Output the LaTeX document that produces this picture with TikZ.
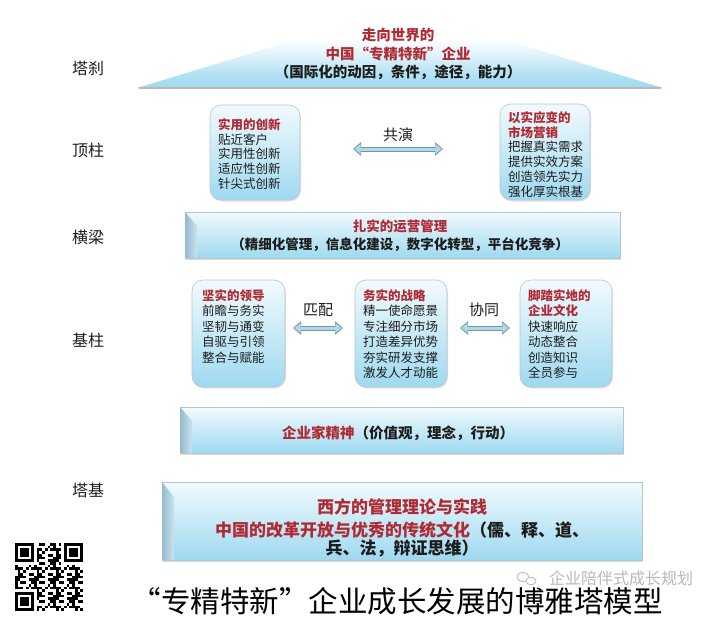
\documentclass[tikz,border=0pt]{standalone}
\usepackage{fontspec}
\setmainfont{Noto Sans CJK SC}
\usetikzlibrary{arrows.meta,shadows}
\definecolor{dred}{RGB}{176,42,52}
\definecolor{txt}{RGB}{28,28,28}
\definecolor{bluetop}{RGB}{242,250,253}
\definecolor{bluebot}{RGB}{158,217,240}
\definecolor{edgec}{RGB}{182,198,206}
\definecolor{arrfill}{RGB}{178,216,230}
\definecolor{arredge}{RGB}{110,152,170}
\definecolor{bevelA}{RGB}{150,186,204}
\definecolor{bevelB}{RGB}{200,228,240}
\definecolor{wmgray}{RGB}{185,185,185}
\pgfdeclareverticalshading{roofsh}{100bp}{color(0bp)=(bluebot); color(25bp)=(bluebot); color(33bp)=(bluebot!80!white); color(45bp)=(bluebot!35!white); color(56bp)=(white); color(100bp)=(white)}
\begin{document}
\begin{tikzpicture}[x=1pt,y=-1pt,
  colbox/.style={rounded corners=11pt, top color=bluetop, bottom color=bluebot, draw=edgec, line width=0.6pt,
     drop shadow={opacity=0.22, shadow xshift=1pt, shadow yshift=-1.5pt}, inner sep=0pt},
  barbox/.style={top color=bluetop, bottom color=bluebot, draw=edgec, line width=0.6pt,
     drop shadow={opacity=0.28, shadow xshift=1pt, shadow yshift=-2pt}, inner sep=0pt},
  bevelshade/.style={left color=bevelA, right color=bevelB},
  boxtext/.style={anchor=north west, inner sep=0pt, align=left, text=txt, font=\fontsize{12.5}{15.5}\selectfont},
  lbl/.style={inner sep=0pt, text=txt, font=\fontsize{16}{16}\selectfont},
  arrlbl/.style={inner sep=0pt, text=txt, font=\fontsize{15}{15}\selectfont},
  arrout/.style={line width=5pt, draw=arredge, {Triangle[length=8pt,width=13pt]}-{Triangle[length=8pt,width=13pt]}},
  arrin/.style={line width=3pt, draw=arrfill, shorten <=1.3pt, shorten >=1.3pt, {Triangle[length=6.3pt,width=9.5pt]}-{Triangle[length=6.3pt,width=9.5pt]}}
]
\useasboundingbox (0,0) rectangle (728,618);
\fill[white] (0,0) rectangle (728,618);

% ---------- left labels
\node[lbl] (L1) at (88,68) {塔刹};
\node[lbl] (L2) at (88,150) {顶柱};
\node[lbl] (L3) at (88,237) {横梁};
\node[lbl] (L4) at (88,340) {基柱};
\node[lbl] (L5) at (88,490) {塔基};

% ---------- roof
\shade[shading=roofsh] (137,88) -- (400,8) -- (663,88) -- cycle;
\draw[line width=1.6pt, draw=gray!55] (139,88) -- (661,88);
\node[inner sep=0pt, align=center, text=txt, font=\fontsize{14.5}{18.5}\selectfont\bfseries] (rooftxt) at (398,54)
  {\textcolor{dred}{走向世界的}\\ \textcolor{dred}{中国“专精特新”企业}\\ （国际化的动因，条件，途径，能力）};

% ---------- top columns
\node[colbox, minimum width=90, minimum height=95] (tl) at (255,152.5) {};
\node[colbox, minimum width=90, minimum height=96] (tr) at (545,152) {};
\node[boxtext, font=\fontsize{12.5}{14.8}\selectfont] (tlt) at (218,118.3)
  {\textcolor{dred}{\bfseries 实用的创新}\\ 贴近客户\\ 实用性创新\\ 适应性创新\\ 针尖式创新};
\node[boxtext, font=\fontsize{12.5}{14.8}\selectfont] (trt) at (508,111.3)
  {\textcolor{dred}{\bfseries 以实应变的}\\ \textcolor{dred}{\bfseries 市场营销}\\ 把握真实需求\\ 提供实效方案\\ 创造领先实力\\ 强化厚实根基};
\coordinate (g1) at (353,149);
\coordinate (g2) at (443,149);
\draw[arrout] (g1) -- (g2);
\draw[arrin] (g1) -- (g2);
\node[arrlbl] (gl) at (398,135) {共演};

% ---------- beam
\node[barbox, minimum width=435, minimum height=46] (beam) at (402.5,235) {};
\shade[bevelshade] (185,212) -- (197,226) -- (197,258) -- (185,258) -- cycle;
\node[inner sep=0pt, align=center, text=txt, font=\fontsize{13.5}{18}\selectfont\bfseries] (beamtxt) at (400,236)
  {\textcolor{dred}{扎实的运营管理}\\ （精细化管理，信息化建设，数字化转型，平台化竞争）};

% ---------- base columns
\node[colbox, minimum width=93, minimum height=107] (bl) at (238.5,333.5) {};
\node[colbox, minimum width=92, minimum height=107] (bm) at (401,333.5) {};
\node[colbox, minimum width=92, minimum height=107] (br) at (566,333.5) {};
\node[boxtext] (blt) at (202,289.2)
  {\textcolor{dred}{\bfseries 坚实的领导}\\ 前瞻与务实\\ 坚韧与通变\\ 自驱与引领\\ 整合与赋能};
\node[boxtext] (bmt) at (363,289.2)
  {\textcolor{dred}{\bfseries 务实的战略}\\ 精一使命愿景\\ 专注细分市场\\ 打造差异优势\\ 夯实研发支撑\\ 激发人才动能};
\node[boxtext] (brt) at (528,289.2)
  {\textcolor{dred}{\bfseries 脚踏实地的}\\ \textcolor{dred}{\bfseries 企业文化}\\ 快速响应\\ 动态整合\\ 创造知识\\ 全员参与};
\coordinate (p1) at (293,328);
\coordinate (p2) at (343,328);
\coordinate (x1) at (460,328);
\coordinate (x2) at (510,328);
\draw[arrout] (p1) -- (p2);
\draw[arrin] (p1) -- (p2);
\draw[arrout] (x1) -- (x2);
\draw[arrin] (x1) -- (x2);
\node[arrlbl] (pl) at (318,310) {匹配};
\node[arrlbl] (xl) at (484,310) {协同};

% ---------- entrepreneurial spirit bar
\node[barbox, minimum width=443, minimum height=46] (spirit) at (401.5,430) {};
\shade[bevelshade] (180,407) -- (192,421) -- (192,453) -- (180,453) -- cycle;
\node[inner sep=0pt, text=txt, font=\fontsize{14.5}{14.5}\selectfont\bfseries] (spirittxt) at (398,433)
  {\textcolor{dred}{企业家精神}（价值观，理念，行动）};

% ---------- foundation
\node[barbox, minimum width=480, minimum height=78] (found) at (402,521) {};
\shade[bevelshade] (162,482) -- (174,497) -- (174,560) -- (162,560) -- cycle;
\node[inner sep=0pt, align=center, text=txt, font=\fontsize{17}{18.5}\selectfont\bfseries] (foundtxt) at (402,528)
  {\textcolor{dred}{西方的管理理论与实践}\\[4.5pt] \textcolor{dred}{中国的改革开放与优秀的传统文化}（儒、释、道、\\ 兵、法，辩证思维）};

% ---------- title
\node[inner sep=0pt, text=black, font=\fontsize{29.5}{29.5}\selectfont] (title) at (397,601)
  {“专精特新”企业成长发展的博雅塔模型};

% ---------- watermark
\draw[wmgray, line width=0.8pt] (523,577) ellipse (6 and 4.5);
\draw[wmgray, line width=0.8pt, fill=white] (531,581) ellipse (5 and 3.8);
\node[inner sep=0pt, text=wmgray, font=\fontsize{16}{16}\selectfont] (wm) at (621,578) {企业陪伴式成长规划};

% ---------- QR code
\foreach \i in {0,...,24}{
  \foreach \j in {0,...,24}{
    \pgfmathtruncatemacro\qrv{(((\i<8)&&(\j<8))||((\i>16)&&(\j<8))||((\i<8)&&(\j>16))) ? 0 : (mod(\i*\i*3+\j*7+\i*\j*5+\j*\j*2+\i,7)<3 ? 1 : 0)}
    \ifnum\qrv=1
      \fill[black] ({15+\i*2.72},{543+\j*2.72}) rectangle ++(2.72,2.72);
    \fi
  }
}
\foreach \cx/\cy in {15/543, 63.96/543, 15/591.96}{
  \fill[black] (\cx,\cy) rectangle ++(19.04,19.04);
  \fill[white] ({\cx+2.72},{\cy+2.72}) rectangle ++(13.6,13.6);
  \fill[black] ({\cx+5.44},{\cy+5.44}) rectangle ++(8.16,8.16);
}
\end{tikzpicture}
\end{document}
